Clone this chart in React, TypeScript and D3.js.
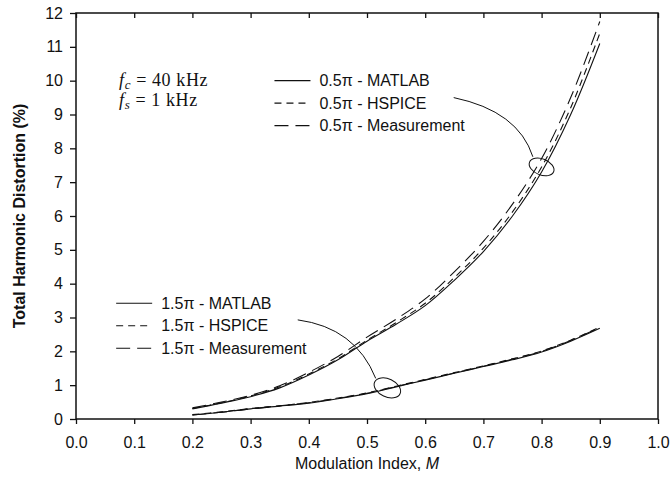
import React, { useRef, useEffect } from "react";
import * as d3 from "d3";

// modulation index samples (0.2 .. 0.9 every 0.05)
const mIndex = [0.2, 0.25, 0.3, 0.35, 0.4, 0.45, 0.5, 0.55, 0.6, 0.65, 0.7, 0.75, 0.8, 0.85, 0.9];

// THD (%)
const thd05Matlab = [0.3, 0.47, 0.66, 0.92, 1.3, 1.75, 2.3, 2.8, 3.35, 4.1, 4.95, 6.0, 7.3, 9.0, 11.1];
const thd05Hspice = [0.31, 0.48, 0.68, 0.95, 1.33, 1.78, 2.33, 2.85, 3.42, 4.18, 5.05, 6.12, 7.45, 9.2, 11.4];
const thd05Meas = [0.33, 0.5, 0.7, 0.98, 1.38, 1.85, 2.42, 2.95, 3.55, 4.35, 5.25, 6.35, 7.7, 9.5, 11.75];

const thd15Matlab = [0.12, 0.2, 0.3, 0.38, 0.47, 0.6, 0.75, 0.95, 1.15, 1.35, 1.55, 1.75, 1.98, 2.3, 2.68];
const thd15Hspice = [0.13, 0.21, 0.31, 0.39, 0.49, 0.62, 0.77, 0.97, 1.17, 1.37, 1.57, 1.78, 2.01, 2.33, 2.72];
const thd15Meas = [0.12, 0.2, 0.3, 0.39, 0.48, 0.61, 0.76, 0.96, 1.16, 1.36, 1.56, 1.77, 2.0, 2.32, 2.7];

const xTicks = [0, 0.1, 0.2, 0.3, 0.4, 0.5, 0.6, 0.7, 0.8, 0.9, 1.0];
const yTicks = [0, 1, 2, 3, 4, 5, 6, 7, 8, 9, 10, 11, 12];

const styles = [
  { name: "MATLAB", dash: null },
  { name: "HSPICE", dash: "7,5" },
  { name: "Measurement", dash: "14,7" },
];

export default function App() {
  const ref = useRef<SVGSVGElement>(null);

  useEffect(() => {
    const width = 670;
    const height = 492;
    const margin = { top: 13, right: 12, bottom: 73, left: 76 };
    const font = "Liberation Sans, Arial, sans-serif";

    const svg = d3.select(ref.current);
    svg.selectAll("*").remove();
    svg.attr("width", width).attr("height", height);

    const x = d3.scaleLinear().domain([0, 1]).range([margin.left, width - margin.right]);
    const y = d3.scaleLinear().domain([0, 12]).range([height - margin.bottom, margin.top]);

    const line = d3
      .line<number>()
      .x((_, i) => x(mIndex[i]))
      .y(d => y(d))
      .curve(d3.curveCatmullRom);

    const series = [
      { vals: thd05Matlab, st: styles[0] },
      { vals: thd05Hspice, st: styles[1] },
      { vals: thd05Meas, st: styles[2] },
      { vals: thd15Matlab, st: styles[0] },
      { vals: thd15Hspice, st: styles[1] },
      { vals: thd15Meas, st: styles[2] },
    ];

    const g = svg.append("g");
    series.forEach(s => {
      g.append("path")
        .attr("d", line(s.vals))
        .attr("fill", "none")
        .attr("stroke", "#111")
        .attr("stroke-width", 1.1)
        .attr("stroke-dasharray", s.st.dash);
    });

    // frame
    svg.append("rect")
      .attr("x", x(0))
      .attr("y", y(12))
      .attr("width", x(1) - x(0))
      .attr("height", y(0) - y(12))
      .attr("fill", "none")
      .attr("stroke", "#111")
      .attr("stroke-width", 1.5);

    // bottom axis
    const xa = svg.append("g")
      .attr("transform", `translate(0,${y(0)})`)
      .call(d3.axisBottom(x).tickValues(xTicks).tickSize(5).tickFormat(d3.format(".1f")));
    xa.select(".domain").remove();
    xa.selectAll("line").attr("stroke", "#111").attr("stroke-width", 1.3);
    xa.selectAll("text")
      .attr("dy", "1.3em")
      .style("fill", "#111")
      .style("font-family", font)
      .style("font-size", "16px");

    // top ticks (inward)
    const xt = svg.append("g")
      .attr("transform", `translate(0,${y(12)})`)
      .call(d3.axisBottom(x).tickValues(xTicks).tickSize(5).tickFormat(() => ""));
    xt.select(".domain").remove();
    xt.selectAll("line").attr("stroke", "#111").attr("stroke-width", 1.3);

    // left axis
    const ya = svg.append("g")
      .attr("transform", `translate(${x(0)},0)`)
      .call(d3.axisLeft(y).tickValues(yTicks).tickSize(6).tickPadding(7));
    ya.select(".domain").remove();
    ya.selectAll("line").attr("stroke", "#111").attr("stroke-width", 1.3);
    ya.selectAll("text")
      .style("fill", "#111")
      .style("font-family", font)
      .style("font-size", "16px");

    // axis titles
    const xTitle = svg.append("text")
      .attr("x", (x(0) + x(1)) / 2)
      .attr("y", 469)
      .attr("text-anchor", "middle")
      .style("font-family", font)
      .style("font-size", "16px")
      .style("fill", "#111");
    xTitle.append("tspan").text("Modulation Index, ");
    xTitle.append("tspan").style("font-style", "italic").text("M");

    svg.append("text")
      .attr("transform", `translate(25,${(y(0) + y(12)) / 2}) rotate(-90)`)
      .attr("text-anchor", "middle")
      .style("font-family", font)
      .style("font-size", "16px")
      .style("font-weight", "bold")
      .style("fill", "#111")
      .text("Total Harmonic Distortion (%)");

    // fc / fs note
    const serif = "Liberation Serif, Times New Roman, serif";
    [
      { sub: "c", val: "40 kHz", yy: y(9.84) },
      { sub: "s", val: "1 kHz", yy: y(9.25) },
    ].forEach(n => {
      const t = svg.append("text")
        .attr("x", x(0.074))
        .attr("y", n.yy)
        .style("font-family", serif)
        .style("font-size", "18px")
        .style("letter-spacing", "0.6px")
        .style("fill", "#111");
      t.append("tspan").style("font-style", "italic").text("f");
      t.append("tspan").style("font-style", "italic").style("font-size", "13px").attr("dy", 3).text(n.sub);
      t.append("tspan").attr("dy", -3).text(" = " + n.val);
    });

    // legends
    const legend = (lx: number, ly: number, label: string) => {
      styles.forEach((st, i) => {
        const yy = y(ly) + i * 22.5;
        svg.append("line")
          .attr("x1", x(lx))
          .attr("x2", x(lx) + 36)
          .attr("y1", yy)
          .attr("y2", yy)
          .attr("stroke", "#111")
          .attr("stroke-width", 1.1)
          .attr("stroke-dasharray", st.dash);
        svg.append("text")
          .attr("x", x(lx) + 45)
          .attr("y", yy + 5.5)
          .style("font-family", font)
          .style("font-size", "16px")
          .style("fill", "#111")
          .text(`${label}\u03c0 - ${st.name}`);
      });
    };
    legend(0.341, 10.0, "0.5");
    legend(0.069, 3.42, "1.5");

    // annotation ellipses + leaders
    const ann = [
      { from: [0.649, 9.5], ctrl: [0.76, 9.1], to: [0.785, 7.75], c: [0.8, 7.45], rx: 13, ry: 8, rot: 22 },
      { from: [0.381, 2.93], ctrl: [0.48, 2.7], to: [0.515, 1.2], c: [0.535, 0.92], rx: 14, ry: 9, rot: 25 },
    ];
    ann.forEach(a => {
      const p = d3.path();
      p.moveTo(x(a.from[0]), y(a.from[1]));
      p.quadraticCurveTo(x(a.ctrl[0]), y(a.ctrl[1]), x(a.to[0]), y(a.to[1]));
      svg.append("path")
        .attr("d", p.toString())
        .attr("fill", "none")
        .attr("stroke", "#111")
        .attr("stroke-width", 1);
      svg.append("ellipse")
        .attr("cx", x(a.c[0]))
        .attr("cy", y(a.c[1]))
        .attr("rx", a.rx)
        .attr("ry", a.ry)
        .attr("transform", `rotate(${a.rot},${x(a.c[0])},${y(a.c[1])})`)
        .attr("fill", "none")
        .attr("stroke", "#111")
        .attr("stroke-width", 1);
    });
  }, []);

  return (
    <div style={{ position: "absolute", left: 0, top: 0, background: "#fff" }}>
      <svg ref={ref}></svg>
    </div>
  );
}
